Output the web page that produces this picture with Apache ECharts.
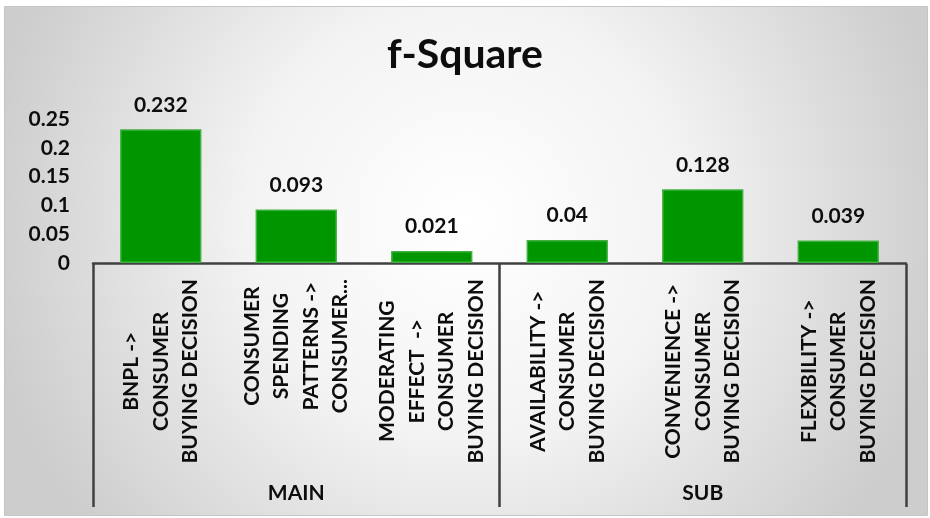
<!DOCTYPE html>
<html><head><meta charset="utf-8">
<script src="https://cdn.jsdelivr.net/npm/echarts@6/dist/echarts.min.js"></script>
<style>html,body{margin:0;padding:0;background:#fff}#c{width:930px;height:518px}</style>
</head><body><div id="c"></div>
<script>
const titleText = 'f-Square';
const categories = [
  'BNPL ->\nCONSUMER\nBUYING DECISION',
  'CONSUMER\nSPENDING\nPATTERNS ->\nCONSUMER...',
  'MODERATING\nEFFECT  ->\nCONSUMER\nBUYING DECISION',
  'AVAILABILITY ->\nCONSUMER\nBUYING DECISION',
  'CONVENIENCE ->\nCONSUMER\nBUYING DECISION',
  'FLEXIBILITY ->\nCONSUMER\nBUYING DECISION'
];
const groups = ['MAIN', 'SUB'];
const values = [0.232, 0.093, 0.021, 0.04, 0.128, 0.039];
const yMin = 0, yMax = 0.25, yInterval = 0.05;

const FONT = 'Lato';
const TXT = '#0d0d0d';
const chart = echarts.init(document.getElementById('c'), null, {renderer: 'canvas'});
chart.setOption({
  animation: false,
  backgroundColor: '#ffffff',
  graphic: [{
    type: 'rect', z: -10, silent: true,
    shape: {x: 4.5, y: 6.5, width: 923, height: 509},
    style: {
      fill: {type: 'radial', x: 0.5, y: 0.42, r: 0.95, colorStops: [
        {offset: 0, color: '#ffffff'}, {offset: 0.45, color: '#f3f3f3'}, {offset: 1, color: '#cdcdcd'}]},
      stroke: '#c6c6c6', lineWidth: 1
    }
  }],
  title: {
    text: titleText, left: 'center', top: 29,
    textStyle: {fontFamily: FONT, fontWeight: 'bold', fontSize: 41, color: TXT}
  },
  grid: {left: 93, right: 24, top: 119, bottom: 255, containLabel: false, outerBoundsMode: 'none'},
  xAxis: [{
    type: 'category', data: categories, position: 'bottom',
    axisLine: {show: true, lineStyle: {color: '#404040', width: 2.5}},
    axisTick: {show: false},
    axisLabel: {
      interval: 0, rotate: 90, margin: 16,
      formatter: v => v.split('\n').map(s => '{c|' + s + '}').join('\n'),
      rich: {c: {align: 'center', fontFamily: FONT, fontWeight: 'bold', fontSize: 21, lineHeight: 29.5, color: TXT}}
    }
  }, {
    type: 'category', data: groups, position: 'bottom', offset: 244,
    axisLine: {show: false},
    axisTick: {show: true, inside: true, length: 243, lineStyle: {color: '#404040', width: 2.5}},
    axisLabel: {inside: true, margin: 3, fontFamily: FONT, fontWeight: 'bold', fontSize: 21, color: TXT}
  }],
  yAxis: {
    type: 'value', min: yMin, max: yMax, interval: yInterval,
    axisLine: {show: false}, axisTick: {show: false}, splitLine: {show: false},
    axisLabel: {margin: 23, fontFamily: FONT, fontWeight: 'bold', fontSize: 21, color: TXT}
  },
  series: [{
    type: 'bar', data: values, xAxisIndex: 0, barWidth: '60%',
    itemStyle: {color: '#009600', borderColor: '#40b040', borderWidth: 1.5},
    label: {show: true, position: 'top', distance: 14, fontFamily: FONT, fontWeight: 'bold', fontSize: 21, color: TXT}
  }]
});
</script></body></html>
